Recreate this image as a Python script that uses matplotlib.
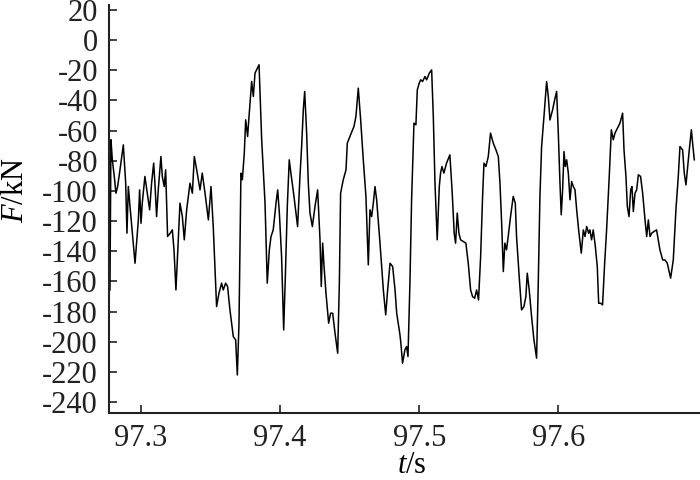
import numpy as np
import matplotlib
matplotlib.use('Agg')
import matplotlib.pyplot as plt

plt.rcParams['font.family'] = ['Liberation Serif', 'DejaVu Serif']
plt.rcParams['mathtext.fontset'] = 'custom'
plt.rcParams['mathtext.rm'] = 'Liberation Serif'
plt.rcParams['mathtext.it'] = 'Liberation Serif:italic'
plt.rcParams['axes.unicode_minus'] = False

# force signal: time (s) and force (kN)
t = [97.2778, 97.2785, 97.2795, 97.2809, 97.2821, 97.2833, 97.2850, 97.2874, 97.2891, 97.2900,
     97.2910, 97.2922, 97.2958, 97.2982, 97.2991, 97.3001, 97.3010, 97.3029, 97.3049, 97.3063,
     97.3077, 97.3092, 97.3101, 97.3113, 97.3125, 97.3144, 97.3154, 97.3168, 97.3178, 97.3192,
     97.3211, 97.3226, 97.3238, 97.3252, 97.3264, 97.3281, 97.3298, 97.3312, 97.3329, 97.3341,
     97.3353, 97.3370, 97.3384, 97.3401, 97.3425, 97.3441, 97.3461, 97.3485, 97.3504, 97.3520,
     97.3544, 97.3561, 97.3580, 97.3592, 97.3609, 97.3623, 97.3640, 97.3664, 97.3681, 97.3693,
     97.3705, 97.3719, 97.3729, 97.3743, 97.3753, 97.3767, 97.3777, 97.3796,
     97.3808, 97.3820, 97.3849, 97.3868, 97.3892, 97.3908, 97.3923, 97.3935, 97.3951, 97.3971,
     97.3983, 97.3995, 97.4011, 97.4026, 97.4038, 97.4052, 97.4066, 97.4078, 97.4100, 97.4126,
     97.4143, 97.4155, 97.4167, 97.4177, 97.4191, 97.4203, 97.4215, 97.4232, 97.4251, 97.4270,
     97.4287, 97.4296, 97.4306, 97.4316, 97.4330, 97.4349, 97.4363, 97.4378, 97.4395, 97.4414,
     97.4426, 97.4435, 97.4454, 97.4474, 97.4483, 97.4502, 97.4531, 97.4545, 97.4562, 97.4579,
     97.4598, 97.4617, 97.4634, 97.4646, 97.4658, 97.4670, 97.4682, 97.4694, 97.4718, 97.4742,
     97.4759, 97.4773, 97.4790, 97.4809, 97.4826, 97.4838,
     97.4861, 97.4868, 97.4880, 97.4897, 97.4909, 97.4919, 97.4933, 97.4945, 97.4962, 97.4976,
     97.4986, 97.5000, 97.5010, 97.5024, 97.5041, 97.5053, 97.5072, 97.5089, 97.5101, 97.5113,
     97.5129, 97.5144, 97.5153, 97.5163, 97.5177, 97.5196, 97.5220, 97.5237, 97.5251, 97.5261,
     97.5273, 97.5285, 97.5297, 97.5316, 97.5335, 97.5352, 97.5369, 97.5383, 97.5398, 97.5412,
     97.5426, 97.5441, 97.5455, 97.5465, 97.5479, 97.5496, 97.5512, 97.5532, 97.5551, 97.5568,
     97.5580, 97.5592, 97.5604, 97.5615, 97.5627, 97.5639, 97.5656, 97.5675, 97.5690, 97.5699,
     97.5718, 97.5735, 97.5752, 97.5766, 97.5776, 97.5790, 97.5807, 97.5824, 97.5843, 97.5855,
     97.5867, 97.5879, 97.5896, 97.5915, 97.5927,
     97.5939, 97.5958, 97.5973, 97.5987, 97.5999, 97.6011, 97.6020, 97.6030, 97.6040, 97.6049,
     97.6059, 97.6071, 97.6083, 97.6095, 97.6107, 97.6119, 97.6131, 97.6145, 97.6164, 97.6179,
     97.6191, 97.6203, 97.6217, 97.6226, 97.6238, 97.6250, 97.6265, 97.6279, 97.6289, 97.6303,
     97.6317, 97.6332, 97.6346, 97.6365, 97.6380, 97.6394, 97.6406, 97.6418, 97.6442, 97.6461,
     97.6471, 97.6485, 97.6495, 97.6507, 97.6519, 97.6528, 97.6538, 97.6550, 97.6562, 97.6574,
     97.6590, 97.6605, 97.6622, 97.6634, 97.6646, 97.6658, 97.6670, 97.6686, 97.6705, 97.6729,
     97.6749, 97.6765, 97.6782, 97.6806, 97.6825, 97.6844, 97.6861, 97.6873, 97.6892, 97.6904,
     97.6916, 97.6926, 97.6940, 97.6955, 97.6964, 97.6976]

F = [-165.6, -66.1, -79.4, -90.4, -101.5, -97.1, -86.0, -69.5, -94.9, -128.0,
     -97.1, -110.3, -147.9, -119.2, -99.3, -121.4, -108.1, -90.4, -103.7, -112.5,
     -94.9, -81.6, -94.9, -117.0, -99.3, -77.2, -90.4, -97.1, -86.0, -130.2,
     -128.0, -125.8, -139.0, -165.6, -141.2, -108.1, -117.0, -132.4, -112.5, -103.7,
     -94.9, -101.5, -77.2, -86.0, -99.3, -88.2, -101.5, -119.2, -97.1, -123.6,
     -176.6, -167.8, -161.1, -165.6, -161.1, -163.3, -178.8, -196.5, -198.7, -221.9,
     -187.6, -88.2, -92.6, -75.0, -52.9, -63.9, -50.7, -27.5,
     -37.4, -22.0, -16.4, -66.1, -108.1, -161.1, -139.0, -130.2, -125.8, -108.1,
     -99.3, -114.7, -143.5, -192.1, -156.7, -110.3, -79.4, -88.2, -103.7, -123.6,
     -90.4, -70.6, -46.3, -34.1, -61.7, -94.9, -114.7, -123.6, -110.3, -99.3,
     -132.4, -163.3, -134.6, -150.1, -167.8, -187.6, -181.0, -181.0, -194.3, -207.5,
     -161.1, -101.5, -92.6, -86.0, -68.4, -63.9, -57.3, -50.7, -31.9, -52.9,
     -79.4, -103.7, -149.0, -112.5, -117.0, -108.1, -97.1, -105.9, -134.6, -165.6,
     -182.1, -165.6, -147.9, -150.1, -165.6, -181.0,
     -195.0, -200.9, -214.1, -205.3, -203.1, -209.7, -161.1, -105.9, -55.1, -56.2,
     -33.0, -28.6, -26.4, -27.5, -24.2, -26.4, -22.0, -19.8, -50.7, -94.9,
     -132.4, -97.1, -88.2, -83.8, -88.2, -81.6, -76.1, -101.5, -128.0, -134.6,
     -114.7, -128.0, -132.4, -133.5, -134.6, -147.9, -165.6, -170.0, -171.1, -165.6,
     -172.2, -143.5, -103.7, -81.6, -83.8, -77.2, -61.7, -68.4, -72.8, -77.2,
     -94.9, -121.4, -153.4, -134.6, -139.0, -130.2, -117.0, -103.7, -108.1, -130.2,
     -156.7, -178.8, -176.6, -170.0, -154.5, -165.6, -183.2, -198.7, -210.8, -161.1,
     -103.7, -70.6, -50.7, -27.5, -37.4,
     -53.0, -46.3, -39.6, -34.1, -61.7, -94.9, -115.8, -99.3, -73.9, -83.8,
     -79.4, -88.2, -105.9, -93.8, -97.1, -99.3, -112.5, -125.8, -141.2, -125.8,
     -130.2, -123.6, -128.0, -125.8, -132.4, -125.8, -136.8, -150.1, -174.4, -174.4,
     -175.5, -147.9, -125.8, -90.4, -59.5, -66.1, -61.7, -59.5, -55.1, -48.5,
     -72.8, -90.4, -110.3, -117.0, -99.3, -97.1, -113.6, -101.5, -99.3, -89.3,
     -90.4, -101.5, -119.2, -130.2, -119.2, -130.2, -128.0, -126.9, -125.8, -139.0,
     -145.7, -145.7, -147.9, -157.8, -145.7, -112.5, -90.4, -70.6, -72.8, -88.2,
     -96.0, -86.0, -72.8, -59.5, -68.4, -79.4]

xticks = [97.3, 97.4, 97.5, 97.6]
yticks = np.arange(-240, 21, 20)

fig = plt.figure(figsize=(7, 4.8), dpi=100)
ax = fig.add_axes([0.1557, 0.139, 0.8443, 0.851])
ax.plot(t, F, color='black', lw=1.1)

ax.set_xlim(97.2771, 97.7017)
ax.set_ylim(-247.3, 23.3)
ax.set_xticks(xticks)
ax.set_xticklabels([f'{v:.1f}' for v in xticks])
ax.set_yticks(yticks)
ax.set_yticklabels([str(v) for v in yticks])

for s in ['top', 'right']:
    ax.spines[s].set_visible(False)
for s in ['left', 'bottom']:
    ax.spines[s].set_linewidth(1.5)
    ax.spines[s].set_color('#222222')

ax.tick_params(axis='both', direction='in', length=6, width=1.2, labelsize=22, colors='#222222')
ax.tick_params(axis='y', pad=8)
ax.tick_params(axis='x', pad=8)

ax.set_xlabel('$t$/s', fontsize=22)
ax.set_ylabel('$F$/kN', fontsize=22)
ax.xaxis.set_label_coords(0.513, -0.093)
ax.yaxis.set_label_coords(-0.134, 0.546)

fig.savefig('out.png', dpi=100)
